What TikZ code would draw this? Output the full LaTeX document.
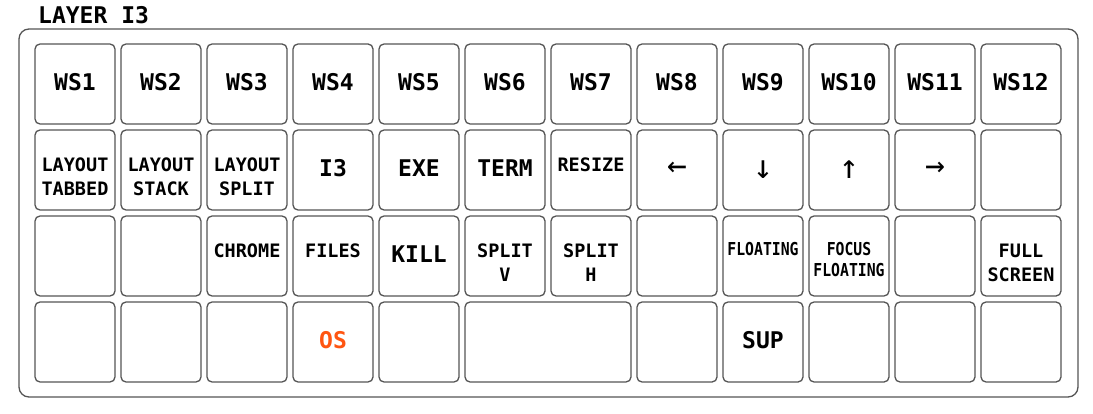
\documentclass[tikz,border=0pt]{standalone}
\usepackage{fontspec}
\setmonofont{DejaVu Sans Mono}
\newfontfamily\condmono[FakeStretch=0.83]{DejaVu Sans Mono}
\usetikzlibrary{positioning}
\definecolor{keyborder}{HTML}{555555}
\definecolor{osorange}{HTML}{FF5511}

\begin{document}
\begin{tikzpicture}[x=1pt, y=-1pt,
  key/.style={rectangle, rounded corners=5pt, draw=keyborder, line width=1.3pt,
    fill=white, minimum width=80pt, minimum height=80pt, inner sep=0pt},
  big/.style={font=\ttfamily\bfseries\fontsize{23}{27}\selectfont,
    anchor=base, inner sep=0pt, yshift=-6.7pt},
  med/.style={font=\ttfamily\bfseries\fontsize{18.5}{24.4}\selectfont,
    align=center, anchor=base, inner sep=0pt, yshift=-1.3pt},
  medtwo/.style={med, yshift=-24.4pt},
  small/.style={font=\condmono\bfseries\fontsize{17.8}{21.4}\selectfont,
    align=center, anchor=base, inner sep=0pt, yshift=0.5pt},
  smalltwo/.style={small, yshift=-21.4pt},
  arrowlbl/.style={font=\ttfamily\fontsize{33}{36}\selectfont,
    inner sep=0pt, yshift=0.7pt},
]
  \useasboundingbox (0,0) rectangle (1093,414);
  % board and title
  \draw[rounded corners=10pt, draw=keyborder, line width=1.3pt, fill=white]
    (19,29) rectangle (1078,397);
  \node[font=\ttfamily\bfseries\fontsize{23}{27}\selectfont, anchor=base west,
    inner sep=0pt] (title) at (38,24) {LAYER I3};

  % keys
  \foreach \r in {0,1,2}
    \foreach \c in {0,...,11}
      \node[key] (k-\r-\c) at (75+86*\c, 84+86*\r) {};
  \foreach \c in {0,1,2,3,4,7,8,9,10,11}
    \node[key] (k-3-\c) at (75+86*\c, 342) {};
  \node[key, minimum width=166pt] (k-3-5) at (548,342) {};

  % row 0
  \foreach \c in {0,...,11} {
    \pgfmathtruncatemacro\wsnum{\c+1}
    \node[big] (t-0-\c) at (k-0-\c.center) {WS\wsnum};
  }

  % row 1
  \node[medtwo] (t-1-0) at (k-1-0.center) {LAYOUT\\TABBED};
  \node[medtwo] (t-1-1) at (k-1-1.center) {LAYOUT\\STACK};
  \node[medtwo] (t-1-2) at (k-1-2.center) {LAYOUT\\SPLIT};
  \node[big] (t-1-3) at (k-1-3.center) {I3};
  \node[big] (t-1-4) at (k-1-4.center) {EXE};
  \node[big] (t-1-5) at (k-1-5.center) {TERM};
  \node[med] (t-1-6) at (k-1-6.center) {RESIZE};
  \node[arrowlbl] (t-1-7) at (k-1-7.center) {←};
  \node[arrowlbl] (t-1-8) at (k-1-8.center) {↓};
  \node[arrowlbl] (t-1-9) at (k-1-9.center) {↑};
  \node[arrowlbl] (t-1-10) at (k-1-10.center) {→};

  % row 2
  \node[med] (t-2-2) at (k-2-2.center) {CHROME};
  \node[med] (t-2-3) at (k-2-3.center) {FILES};
  \node[big] (t-2-4) at (k-2-4.center) {KILL};
  \node[medtwo] (t-2-5) at (k-2-5.center) {SPLIT\\V};
  \node[medtwo] (t-2-6) at (k-2-6.center) {SPLIT\\H};
  \node[small] (t-2-8) at (k-2-8.center) {FLOATING};
  \node[smalltwo] (t-2-9) at (k-2-9.center) {FOCUS\\FLOATING};
  \node[medtwo] (t-2-11) at (k-2-11.center) {FULL\\SCREEN};

  % row 3
  \node[big, text=osorange] (t-3-3) at (k-3-3.center) {OS};
  \node[big] (t-3-8) at (k-3-8.center) {SUP};
\end{tikzpicture}
\end{document}
